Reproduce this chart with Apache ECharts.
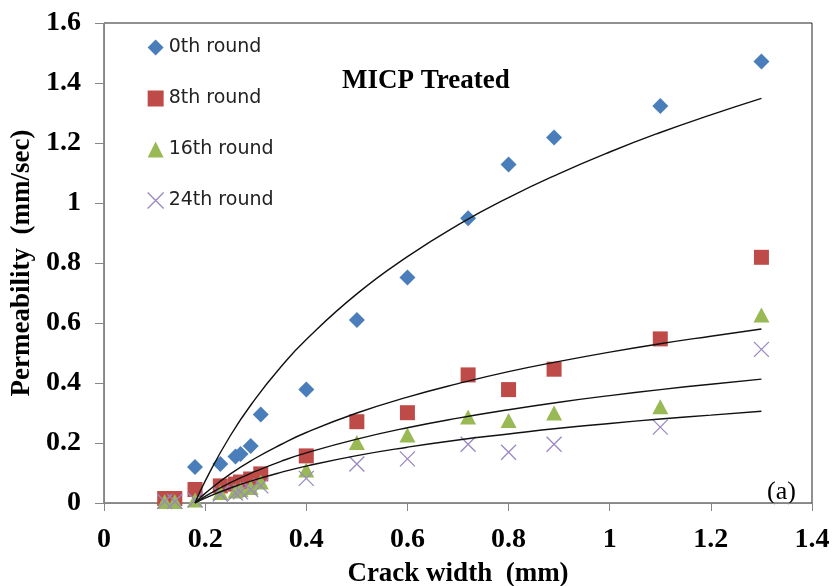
<!DOCTYPE html>
<html><head><meta charset="utf-8">
<script src="https://cdn.jsdelivr.net/npm/echarts@6/dist/echarts.min.js"></script>
<style>html,body{margin:0;padding:0;background:#fff}#c{width:833px;height:586px}</style>
</head><body><div id="c"></div>
<script>
// Crack width (mm) of each specimen
const crackWidth = [0.12, 0.14, 0.18, 0.23, 0.26, 0.27, 0.29, 0.31, 0.40, 0.50, 0.60, 0.72, 0.80, 0.89, 1.10, 1.30];
// Permeability (mm/sec) per MICP treatment round
const round0  = [null, null, 0.12, 0.13, 0.155, 0.163, 0.19, 0.295, 0.378, 0.61, 0.752, 0.949, 1.128, 1.218, 1.323, 1.472];
const round8  = [0.015, 0.015, 0.045, 0.057, 0.063, 0.07, 0.08, 0.097, 0.157, 0.271, 0.301, 0.427, 0.378, 0.446, 0.547, 0.819];
const round16 = [0.005, 0.005, 0.01, 0.035, 0.04, 0.045, 0.052, 0.07, 0.11, 0.202, 0.227, 0.287, 0.275, 0.30, 0.321, 0.627];
const round24 = [0.005, 0.005, 0.01, 0.03, 0.033, 0.037, 0.045, 0.057, 0.082, 0.13, 0.147, 0.196, 0.169, 0.196, 0.253, 0.512];
// Trend lines
const trendX   = [0.18, 0.20, 0.25, 0.30, 0.35, 0.40, 0.50, 0.60, 0.70, 0.80, 0.90, 1.00, 1.10, 1.20, 1.30];
const trend0   = [0.0, 0.073, 0.225, 0.349, 0.454, 0.545, 0.697, 0.821, 0.927, 1.018, 1.098, 1.170, 1.235, 1.294, 1.349];
const trend8   = [0.0, 0.032, 0.097, 0.150, 0.195, 0.235, 0.300, 0.353, 0.398, 0.438, 0.472, 0.503, 0.531, 0.556, 0.580];
const trend16  = [0.0, 0.022, 0.068, 0.106, 0.139, 0.167, 0.213, 0.251, 0.283, 0.311, 0.336, 0.358, 0.378, 0.396, 0.413];
const trend24  = [0.0, 0.016, 0.050, 0.078, 0.102, 0.123, 0.158, 0.186, 0.210, 0.230, 0.249, 0.265, 0.280, 0.293, 0.306];
const seriesNames = ['0th round', '8th round', '16th round', '24th round'];
const xRange = {min: 0, max: 1.4, interval: 0.2};
const yRange = {min: 0, max: 1.6, interval: 0.2};

const pair = (xs, ys) => xs.map((x, i) => [x, ys[i]]);
const serif = '"Liberation Serif", "Times New Roman", serif';
const axisGray = '#868686';

const chart = echarts.init(document.getElementById('c'), null, {renderer: 'canvas'});
const trendStyle = {type: 'line', showSymbol: false, smooth: true, silent: true, z: 4,
  lineStyle: {color: '#111', width: 1.4}, emphasis: {disabled: true}};

chart.setOption({
  animation: false,
  backgroundColor: '#fff',
  grid: {left: 104, right: 21, top: 23, bottom: 83, show: true, borderColor: '#222', borderWidth: 1,
    containLabel: false, outerBoundsMode: 'none'},
  xAxis: {
    type: 'value', min: xRange.min, max: xRange.max, interval: xRange.interval,
    name: 'Crack width  (mm)', nameLocation: 'middle', nameGap: 58,
    nameTextStyle: {fontFamily: serif, fontWeight: 'bold', fontSize: 27, color: '#000'},
    axisLine: {show: true, lineStyle: {color: axisGray, width: 1}},
    axisTick: {show: true, inside: false, length: 8, lineStyle: {color: axisGray}},
    axisLabel: {fontFamily: serif, fontWeight: 'bold', fontSize: 28, color: '#000', margin: 23},
    splitLine: {show: false}
  },
  yAxis: {
    type: 'value', min: yRange.min, max: yRange.max, interval: yRange.interval,
    name: 'Permeability  (mm/sec)', nameLocation: 'middle', nameGap: 66, nameRotate: 90,
    nameTextStyle: {fontFamily: serif, fontWeight: 'bold', fontSize: 27, color: '#000'},
    axisLine: {show: true, lineStyle: {color: axisGray, width: 1}},
    axisTick: {show: true, inside: false, length: 9, lineStyle: {color: axisGray}},
    axisLabel: {fontFamily: serif, fontWeight: 'bold', fontSize: 28, color: '#000', margin: 23},
    splitLine: {show: false}
  },
  legend: {
    orient: 'vertical', left: 142, top: 33, itemWidth: 16, itemHeight: 16, itemGap: 32,
    textStyle: {fontFamily: '"DejaVu Sans", sans-serif', fontSize: 19, color: '#222', lineHeight: 16},
    data: [
      {name: seriesNames[0]}, {name: seriesNames[1]}, {name: seriesNames[2]},
      {name: seriesNames[3], itemStyle: {borderWidth: 1.3, color: 'rgba(0,0,0,0)', borderColor: '#9B88C2'}}
    ]
  },
  graphic: [
    {type: 'text', left: 342, top: 68, style: {text: 'MICP Treated', font: 'bold 27px ' + serif, fill: '#000'}},
    {type: 'text', left: 767, top: 479, style: {text: '(a)', font: '26px ' + serif, fill: '#000'}}
  ],
  series: [
    {name: seriesNames[0], type: 'scatter', symbol: 'diamond', symbolSize: 16,
      itemStyle: {color: '#4A7EBB', opacity: 1}, data: pair(crackWidth, round0), z: 2},
    {name: seriesNames[1], type: 'scatter', symbol: 'rect', symbolSize: 15,
      itemStyle: {color: '#BE4B48', opacity: 1}, data: pair(crackWidth, round8), z: 2},
    {name: seriesNames[2], type: 'scatter', symbol: 'triangle', symbolSize: [16, 15],
      itemStyle: {color: '#98B954', opacity: 1}, data: pair(crackWidth, round16), z: 2},
    {name: seriesNames[3], type: 'scatter', symbol: 'path://M0,0L16,16M16,0L0,16', symbolSize: 15,
      itemStyle: {color: 'rgba(0,0,0,0)', borderColor: '#9B88C2', borderWidth: 1.3, opacity: 1},
      data: pair(crackWidth, round24), z: 2},
    Object.assign({name: 'trend0', data: pair(trendX, trend0)}, trendStyle),
    Object.assign({name: 'trend8', data: pair(trendX, trend8)}, trendStyle),
    Object.assign({name: 'trend16', data: pair(trendX, trend16)}, trendStyle),
    Object.assign({name: 'trend24', data: pair(trendX, trend24)}, trendStyle)
  ]
});
</script></body></html>
